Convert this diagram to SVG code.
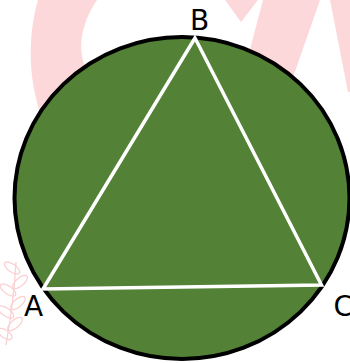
<svg xmlns="http://www.w3.org/2000/svg" width="350" height="363" viewBox="0 0 350 363">
<style>
.wm{fill:#fdd8da;stroke:none}
.leaf{fill:none;stroke:#fbd0d3;stroke-width:1.3}
.lbl{font-family:"DejaVu Sans",sans-serif;font-size:28px;fill:#000}
</style>
<rect width="350" height="363" fill="#fff"/>
<g id="watermark">
<path class="wm" d="M38,0 C28,35 28,75 40,112 L95,112 L85,66 C78,50 80,25 97,0 Z"/>
<polygon class="wm" points="225,0 258,0 241,22"/>
<polygon class="wm" points="263,0 320,0 292,80 242,80"/>
<polygon class="wm" points="330,0 350,0 350,92 348,92"/>
<g class="leaf">
<ellipse cx="12" cy="268" rx="9" ry="4" transform="rotate(35 12 268)"/>
<ellipse cx="20" cy="282" rx="9" ry="4" transform="rotate(-40 20 282)"/>
<ellipse cx="8" cy="290" rx="9" ry="4" transform="rotate(35 8 290)"/>
<ellipse cx="18" cy="303" rx="9" ry="4" transform="rotate(-40 18 303)"/>
<ellipse cx="6" cy="312" rx="9" ry="4" transform="rotate(35 6 312)"/>
<ellipse cx="15" cy="324" rx="9" ry="4" transform="rotate(-40 15 324)"/>
<ellipse cx="5" cy="334" rx="8" ry="4" transform="rotate(35 5 334)"/>
<path d="M16,262 Q14,300 6,345"/>
</g>
</g>
<g id="circle">
<ellipse cx="182" cy="198" rx="167.5" ry="161" fill="#538135" stroke="#000" stroke-width="4"/>
</g>
<g id="connectors">
<polygon points="195,38 43,289 321.5,285" fill="none" stroke="#fff" stroke-width="3.5" stroke-linejoin="miter"/>
</g>
<g id="labelB"><text class="lbl" x="190" y="29.5">B</text></g>
<g id="labelA"><text class="lbl" x="24" y="316">A</text></g>
<g id="labelC"><text class="lbl" x="333.5" y="316">C</text></g>
</svg>
